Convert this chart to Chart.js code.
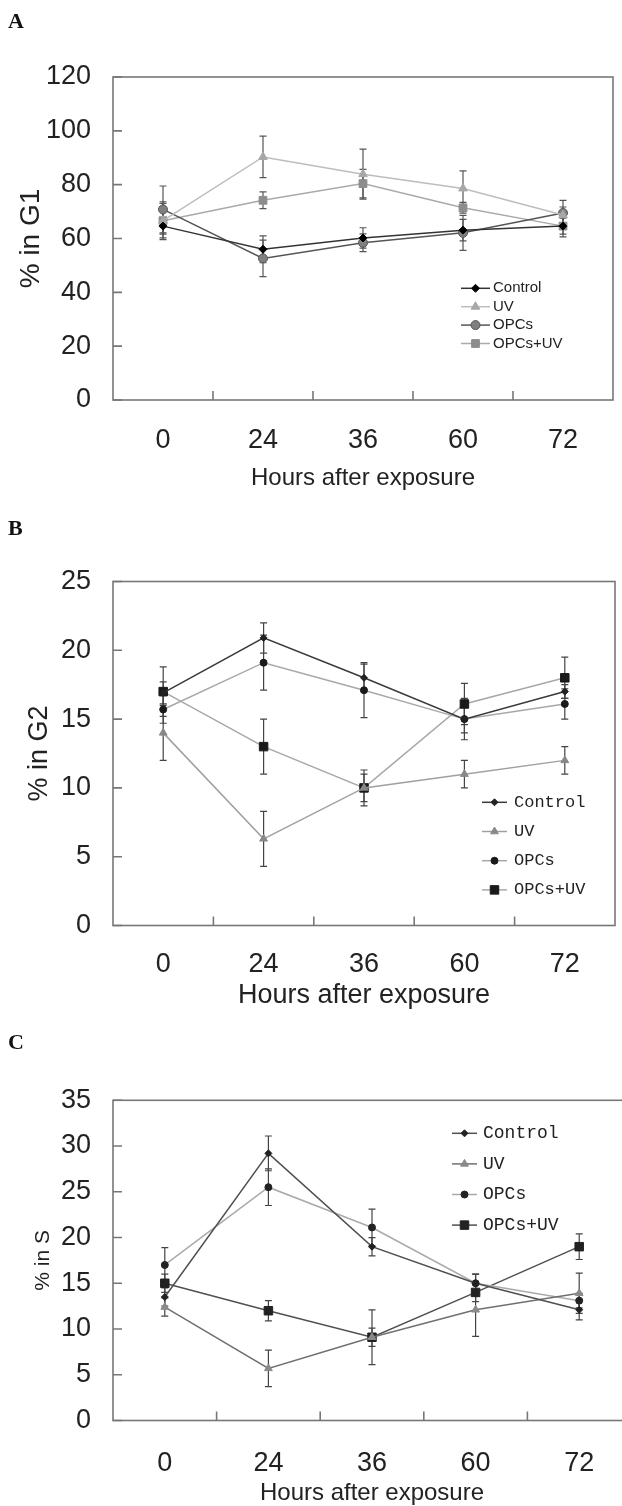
<!DOCTYPE html>
<html>
<head>
<meta charset="utf-8">
<script src="https://cdn.jsdelivr.net/npm/chart.js@4.4.0/dist/chart.umd.min.js"></script>
<style>
  html, body { margin: 0; padding: 0; background: #fff; overflow: hidden; width: 622px; height: 1506px; }
  canvas { position: absolute; left: 0; }
  .lbl { position: absolute; left: 8px; font: bold 22px "Liberation Serif"; line-height: 22px; color: #111; }
</style>
</head>
<body>
<canvas id="g1" width="622" height="500" style="top:0"></canvas>
<canvas id="g2" width="622" height="520" style="top:500px"></canvas>
<canvas id="s" width="640" height="520" style="top:1000px"></canvas>
<div class="lbl" style="top:10px">A</div>
<div class="lbl" style="top:517px">B</div>
<div class="lbl" style="top:1031px">C</div>
<script>
const hours = ["0", "24", "36", "60", "72"];
const seriesNames = ["Control", "UV", "OPCs", "OPCs+UV"];

// panel A, % in G1
const g1Ticks = [0, 20, 40, 60, 80, 100, 120];
const g1Control = [64.6, 56.0, 60.2, 63.1, 64.6];
const g1UV = [66.6, 90.3, 83.9, 78.6, 68.7];
const g1OPCs = [70.8, 52.6, 58.4, 62.1, 69.5];
const g1OPCsUV = [66.6, 74.2, 80.4, 71.4, 64.6];
const g1ControlErr = [3, 5, 3.8, 4, 4];
const g1UVErr = [6.4, 7.7, 9.3, 6.5, 3];
const g1OPCsErr = [8.7, 6.8, 3.3, 6.5, 4.7];
const g1OPCsUVErr = [7, 3.1, 5.3, 2, 3];

// panel B, % in G2
const g2Ticks = [0, 5, 10, 15, 20, 25];
const g2Control = [16.9, 20.9, 18.0, 15.0, 17.0];
const g2UV = [14.0, 6.3, 10.0, 11.0, 12.0];
const g2OPCs = [15.7, 19.1, 17.1, 15.0, 16.1];
const g2OPCsUV = [17.0, 13.0, 10.0, 16.1, 18.0];
const g2ControlErr = [0.8, 1.1, 1.0, 1.5, 0.5];
const g2UVErr = [2.0, 2.0, 1.0, 1.0, 1.0];
const g2OPCsErr = [1.0, 2.0, 2.0, 1.0, 1.1];
const g2OPCsUVErr = [1.8, 2.0, 1.3, 1.5, 1.5];

// panel C, % in S
const sTicks = [0, 5, 10, 15, 20, 25, 30, 35];
const sControl = [13.5, 29.2, 19.0, 15.0, 12.1];
const sUV = [12.4, 5.7, 9.1, 12.1, 13.9];
const sOPCs = [17.0, 25.5, 21.1, 15.0, 13.1];
const sOPCsUV = [15.0, 12.0, 9.1, 14.0, 19.0];
const sControlErr = [1, 1.9, 1, 1, 1.1];
const sUVErr = [1, 2, 1, 2.9, 2.2];
const sOPCsErr = [1.9, 2, 2, 1, 0.8];
const sOPCsUVErr = [1, 1.1, 3, 1, 1.4];

const SANS = "Liberation Sans";

// box around the plot + short inward tick marks
const frame = {
  id: "frame",
  beforeDatasetsDraw(chart) {
    const { ctx, chartArea: a, scales: { x, y } } = chart;
    ctx.save();
    ctx.strokeStyle = "#777";
    ctx.lineWidth = 1.6;
    ctx.strokeRect(a.left, a.top, a.right - a.left, a.bottom - a.top);
    ctx.beginPath();
    y.ticks.forEach(t => {
      const py = y.getPixelForValue(t.value);
      ctx.moveTo(a.left, py); ctx.lineTo(a.left + 9, py);
    });
    for (let i = 0; i < hours.length - 1; i++) {
      const px = (x.getPixelForValue(i) + x.getPixelForValue(i + 1)) / 2;
      ctx.moveTo(px, a.bottom); ctx.lineTo(px, a.bottom - 9);
    }
    ctx.stroke();
    ctx.restore();
  }
};

const errorBars = {
  id: "errorBars",
  beforeDatasetsDraw(chart, args, o) {
    const { ctx, scales: { x, y } } = chart;
    ctx.save();
    ctx.strokeStyle = o.color;
    ctx.lineWidth = 1.2;
    chart.data.datasets.forEach(ds => {
      ds.errors.forEach((e, j) => {
        const px = x.getPixelForValue(j);
        const t = y.getPixelForValue(ds.data[j] + e);
        const b = y.getPixelForValue(ds.data[j] - e);
        ctx.beginPath();
        ctx.moveTo(px, t); ctx.lineTo(px, b);
        ctx.moveTo(px - 3.5, t); ctx.lineTo(px + 3.5, t);
        ctx.moveTo(px - 3.5, b); ctx.lineTo(px + 3.5, b);
        ctx.stroke();
      });
    });
    ctx.restore();
  }
};

const insideLegend = {
  id: "insideLegend",
  afterDraw(chart, args, o) {
    const ctx = chart.ctx;
    chart.data.datasets.forEach((ds, i) => {
      const y = o.y + i * o.gap;
      ctx.save();
      ctx.strokeStyle = ds.borderColor;
      ctx.lineWidth = ds.borderWidth;
      ctx.beginPath(); ctx.moveTo(o.x0, y); ctx.lineTo(o.x1, y); ctx.stroke();
      ctx.fillStyle = ds.pointBackgroundColor;
      ctx.strokeStyle = ds.pointBorderColor;
      ctx.lineWidth = 1;
      Chart.helpers.drawPoint(ctx, { pointStyle: ds.pointStyle, radius: ds.pointRadius, borderWidth: 1, rotation: 0 }, (o.x0 + o.x1) / 2, y);
      ctx.fillStyle = "#222";
      ctx.font = o.font;
      ctx.textAlign = "left";
      ctx.textBaseline = "middle";
      ctx.fillText(ds.label, o.textX, y);
      ctx.restore();
    });
  }
};

function makeChart(id, o) {
  const datasets = o.series.map((s, i) => ({
    label: seriesNames[i],
    data: s.data,
    errors: s.err,
    borderColor: s.line,
    borderWidth: 1.5,
    pointStyle: s.shape,
    pointRadius: s.r,
    pointBackgroundColor: s.fill,
    pointBorderColor: s.edge || s.fill,
    pointBorderWidth: 1,
    tension: 0,
    fill: false
  }));
  return new Chart(document.getElementById(id), {
    type: "line",
    data: { labels: hours, datasets: datasets },
    plugins: [frame, errorBars, insideLegend],
    options: {
      responsive: false,
      animation: false,
      layout: { padding: { left: 0, top: o.top, right: o.right, bottom: 0 } },
      plugins: {
        legend: { display: false },
        tooltip: { enabled: false },
        errorBars: { color: o.errColor },
        insideLegend: o.legend
      },
      scales: {
        x: {
          offset: true,
          grid: { display: false, drawTicks: false },
          border: { display: false },
          ticks: { font: { family: SANS, size: o.xFont }, color: "#222", padding: o.xPad, maxRotation: 0 },
          title: {
            display: true, text: "Hours after exposure", color: "#222",
            font: { family: SANS, size: o.xTitleFont },
            padding: { top: 0, bottom: o.xTitlePad }
          },
          afterFit: s => { s.height = o.xHeight; }
        },
        y: {
          min: 0,
          max: o.ticks[o.ticks.length - 1],
          grid: { display: false, drawTicks: false },
          border: { display: false },
          afterBuildTicks: s => { s.ticks = o.ticks.map(v => ({ value: v })); },
          ticks: { font: { family: SANS, size: 27 }, color: "#222", padding: 22 },
          title: {
            display: true, text: o.yTitle, color: "#222",
            font: { family: SANS, size: o.yTitleFont },
            padding: { top: o.yTitlePad, bottom: 0 }
          },
          afterFit: s => { s.width = 113; }
        }
      }
    }
  });
}

makeChart("g1", {
  top: 77, right: 9, xHeight: 100, xFont: 27, xPad: 24, xTitleFont: 24, xTitlePad: 7,
  yTitle: "% in G1", yTitleFont: 28, yTitlePad: 14, ticks: g1Ticks, errColor: "#555",
  legend: { x0: 461, x1: 490, textX: 493, y: 288.3, gap: 18.4, font: "15px Liberation Sans" },
  series: [
    { data: g1Control, err: g1ControlErr, line: "#333", fill: "#000", shape: "rectRot", r: 4 },
    { data: g1UV, err: g1UVErr, line: "#bdbdbd", fill: "#a8a8a8", shape: "triangle", r: 5 },
    { data: g1OPCs, err: g1OPCsErr, line: "#555", fill: "#808080", edge: "#555", shape: "circle", r: 4.5 },
    { data: g1OPCsUV, err: g1OPCsUVErr, line: "#aaa", fill: "#8c8c8c", shape: "rect", r: 5.5 }
  ]
});

makeChart("g2", {
  top: 81.5, right: 3, xHeight: 94.5, xFont: 27, xPad: 23, xTitleFont: 27, xTitlePad: 8,
  yTitle: "% in G2", yTitleFont: 27, yTitlePad: 23, ticks: g2Ticks, errColor: "#444",
  legend: { x0: 482, x1: 507, textX: 514, y: 302.3, gap: 29.2, font: "17px Liberation Mono" },
  series: [
    { data: g2Control, err: g2ControlErr, line: "#3a3a3a", fill: "#222", shape: "rectRot", r: 3.5 },
    { data: g2UV, err: g2UVErr, line: "#a0a0a0", fill: "#888", shape: "triangle", r: 4.5 },
    { data: g2OPCs, err: g2OPCsErr, line: "#a8a8a8", fill: "#1a1a1a", shape: "circle", r: 3.5 },
    { data: g2OPCsUV, err: g2OPCsUVErr, line: "#a8a8a8", fill: "#1a1a1a", shape: "rect", r: 6 }
  ]
});

makeChart("s", {
  top: 100.3, right: 9, xHeight: 99.5, xFont: 27, xPad: 27, xTitleFont: 24, xTitlePad: 12,
  yTitle: "% in S", yTitleFont: 21, yTitlePad: 31, ticks: sTicks, errColor: "#444",
  legend: { x0: 452, x1: 477, textX: 483, y: 133.3, gap: 30.6, font: "18px Liberation Mono" },
  series: [
    { data: sControl, err: sControlErr, line: "#505050", fill: "#222", shape: "rectRot", r: 3.5 },
    { data: sUV, err: sUVErr, line: "#707070", fill: "#8a8a8a", shape: "triangle", r: 4.5 },
    { data: sOPCs, err: sOPCsErr, line: "#aaa", fill: "#222", shape: "circle", r: 3.5 },
    { data: sOPCsUV, err: sOPCsUVErr, line: "#505050", fill: "#222", shape: "rect", r: 6 }
  ]
});
</script>
</body>
</html>
